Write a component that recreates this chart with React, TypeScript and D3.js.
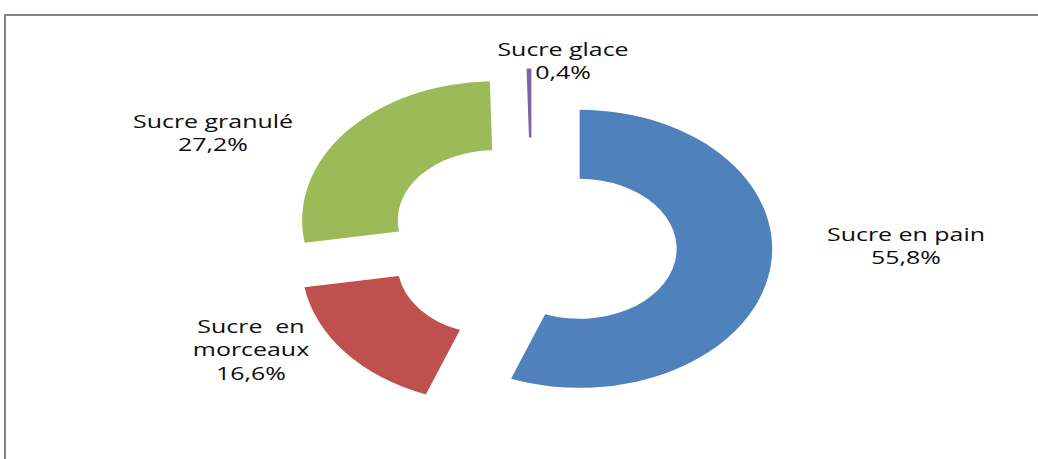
import React, { useRef, useEffect } from 'react';
import * as d3 from 'd3';

const categories = ['Sucre en pain', 'Sucre  en|morceaux', 'Sucre granulé', 'Sucre glace'];
const values = [55.8, 16.6, 27.2, 0.4];
const colors = ['#4F81BD', '#C0504D', '#9BBB59', '#8064A2'];

// label anchor (centre of first line), picked by hand like Excel's "best fit"
const labelPos = [
  [906, 241],
  [251, 333],
  [213, 128],
  [563, 56],
];

const App = () => {
  const svgRef = useRef<SVGSVGElement>(null);

  useEffect(() => {
    const svg = d3.select(svgRef.current);
    svg.selectAll('*').remove();

    const width = 1038;
    const height = 459;
    const cx = 532;
    const cy = 242.5;
    const sx = 1.385; // chart was stretched horizontally
    const outer = 139;
    const inner = 70;
    const explode = 35;

    svg.append('rect').attr('width', width).attr('height', height).attr('fill', '#fff');

    // frame
    svg.append('path')
      .attr('d', `M5,${height} V15 H${width}`)
      .attr('fill', 'none')
      .attr('stroke', '#868686')
      .attr('stroke-width', 2);

    const pie = d3.pie<number>().sort(null).value(d => d);
    const arcs = pie(values);

    const arc = d3.arc<d3.PieArcDatum<number>>()
      .innerRadius(inner)
      .outerRadius(outer);

    arcs.forEach((a, i) => {
      const mid = (a.startAngle + a.endAngle) / 2;
      const ox = cx + Math.sin(mid) * explode * sx;
      const oy = cy - Math.cos(mid) * explode;
      svg.append('g')
        .attr('transform', `translate(${ox},${oy}) scale(${sx},1)`)
        .append('path')
        .attr('d', arc(a))
        .attr('fill', colors[i]);
    });

    const labels = svg.append('g')
      .style('font-family', '"Open Sans", sans-serif')
      .style('font-size', '18px')
      .attr('fill', '#0d0d0d')
      .attr('text-anchor', 'middle');

    categories.forEach((c, i) => {
      const lines = [...c.split('|'), `${values[i].toFixed(1).replace('.', ',')}%`];
      const t = labels.append('g')
        .attr('transform', `translate(${labelPos[i][0]},${labelPos[i][1]}) scale(${sx},1)`)
        .append('text')
        .attr('xml:space', 'preserve');
      lines.forEach((l, j) => {
        t.append('tspan')
          .attr('x', 0)
          .attr('y', j * 23.5)
          .text(l);
      });
    });
  }, []);

  return <svg ref={svgRef} width={1038} height={459} style={{ position: 'absolute', left: 0, top: 0 }} />;
};

export default App;
